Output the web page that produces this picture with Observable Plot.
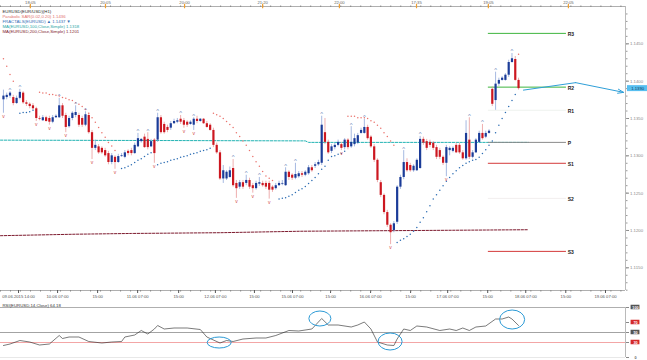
<!DOCTYPE html>
<html>
<head>
<meta charset="utf-8">
<script src="https://cdn.jsdelivr.net/npm/d3@7"></script>
<script src="https://cdn.jsdelivr.net/npm/@observablehq/plot@0.6"></script>
<style>
html,body{margin:0;padding:0;background:#fff;}
#wrap{position:relative;width:647px;height:360px;overflow:hidden;background:#fff;}
#main,#rsi{position:absolute;left:0;}
#main{top:0;}
#rsi{top:302px;}
</style>
</head>
<body>
<div id="wrap"><div id="main"></div><div id="rsi"></div></div>
<script>
// ---------------- DATA ----------------
const open = [
1.1375,1.1378,1.1380,1.1378,1.1370,1.1377,1.1384,1.1371,1.1369,1.1367,
1.1363,1.1350,1.1347,1.1351,1.1350,1.1345,1.1351,1.1351,1.1367,1.1354,
1.1339,1.1350,1.1354,1.1354,1.1350,1.1341,1.1354,1.1331,1.1310,1.1312,
1.1310,1.1307,1.1303,1.1291,1.1298,1.1291,1.1299,1.1298,1.1306,1.1307,
1.1303,1.1312,1.1319,1.1325,1.1322,1.1312,1.1321,1.1321,1.1351,1.1342,
1.1338,1.1337,1.1343,1.1345,1.1349,1.1347,1.1345,1.1342,1.1341,1.1349,
1.1346,1.1349,1.1343,1.1341,1.1334,1.1314,1.1304,1.1269,1.1269,1.1271,
1.1283,1.1263,1.1258,1.1264,1.1263,1.1267,1.1260,1.1256,1.1262,1.1263,
1.1263,1.1263,1.1258,1.1256,1.1260,1.1262,1.1260,1.1278,1.1274,1.1270,
1.1272,1.1276,1.1274,1.1276,1.1284,1.1286,1.1288,1.1290,1.1331,1.1318,
1.1306,1.1311,1.1314,1.1315,1.1311,1.1321,1.1312,1.1315,1.1317,1.1330,
1.1330,1.1338,1.1325,1.1312,1.1294,1.1264,1.1247,1.1224,1.1207,1.1200,
1.1211,1.1258,1.1271,1.1291,1.1287,1.1280,1.1280,1.1283,1.1322,1.1319,
1.1318,1.1317,1.1311,1.1307,1.1298,1.1290,1.1307,1.1306,1.1314,1.1314,
1.1304,1.1296,1.1321,1.1298,1.1304,1.1318,1.1330,1.1325,1.1330,1.1389,
1.1374,1.1396,1.1401,1.1401,1.1408,1.1425,1.1429,1.1401];
const high = [
1.1388,1.1384,1.1386,1.1381,1.1380,1.1389,1.1386,1.1374,1.1371,1.1370,
1.1365,1.1353,1.1354,1.1353,1.1353,1.1354,1.1355,1.1377,1.1370,1.1357,
1.1353,1.1359,1.1367,1.1357,1.1353,1.1359,1.1357,1.1334,1.1321,1.1315,
1.1312,1.1310,1.1306,1.1303,1.1300,1.1302,1.1303,1.1307,1.1308,1.1310,
1.1317,1.1330,1.1323,1.1329,1.1331,1.1322,1.1323,1.1357,1.1354,1.1345,
1.1341,1.1346,1.1349,1.1350,1.1354,1.1350,1.1347,1.1347,1.1351,1.1353,
1.1350,1.1350,1.1346,1.1343,1.1337,1.1317,1.1307,1.1287,1.1280,1.1285,
1.1295,1.1267,1.1267,1.1267,1.1274,1.1270,1.1263,1.1266,1.1271,1.1266,
1.1266,1.1266,1.1260,1.1263,1.1266,1.1267,1.1284,1.1280,1.1276,1.1290,
1.1279,1.1279,1.1280,1.1287,1.1287,1.1291,1.1294,1.1353,1.1350,1.1321,
1.1315,1.1317,1.1321,1.1318,1.1323,1.1323,1.1339,1.1329,1.1330,1.1337,
1.1349,1.1341,1.1327,1.1315,1.1296,1.1267,1.1249,1.1227,1.1209,1.1212,
1.1260,1.1274,1.1307,1.1296,1.1290,1.1288,1.1296,1.1326,1.1325,1.1322,
1.1321,1.1319,1.1314,1.1310,1.1300,1.1314,1.1312,1.1312,1.1317,1.1317,
1.1307,1.1347,1.1351,1.1307,1.1323,1.1333,1.1342,1.1333,1.1335,1.1392,
1.1412,1.1404,1.1406,1.1410,1.1428,1.1437,1.1433,1.1404];
const low = [
1.1357,1.1375,1.1377,1.1367,1.1369,1.1375,1.1369,1.1366,1.1363,1.1361,
1.1346,1.1347,1.1346,1.1345,1.1341,1.1343,1.1350,1.1350,1.1350,1.1331,
1.1337,1.1347,1.1351,1.1338,1.1338,1.1339,1.1329,1.1295,1.1307,1.1302,
1.1302,1.1298,1.1288,1.1288,1.1282,1.1290,1.1298,1.1296,1.1300,1.1300,
1.1302,1.1311,1.1317,1.1310,1.1308,1.1311,1.1290,1.1318,1.1329,1.1329,
1.1331,1.1334,1.1342,1.1343,1.1342,1.1337,1.1338,1.1341,1.1334,1.1343,
1.1345,1.1342,1.1337,1.1333,1.1311,1.1302,1.1267,1.1263,1.1267,1.1270,
1.1258,1.1243,1.1255,1.1255,1.1260,1.1255,1.1250,1.1254,1.1259,1.1258,
1.1255,1.1242,1.1251,1.1254,1.1259,1.1260,1.1259,1.1267,1.1267,1.1268,
1.1270,1.1271,1.1272,1.1274,1.1278,1.1283,1.1286,1.1287,1.1315,1.1302,
1.1303,1.1308,1.1312,1.1307,1.1308,1.1308,1.1310,1.1312,1.1315,1.1329,
1.1329,1.1321,1.1310,1.1291,1.1264,1.1244,1.1221,1.1204,1.1181,1.1197,
1.1208,1.1255,1.1268,1.1278,1.1278,1.1278,1.1279,1.1282,1.1314,1.1307,
1.1311,1.1307,1.1295,1.1295,1.1287,1.1272,1.1300,1.1304,1.1303,1.1302,
1.1294,1.1294,1.1295,1.1296,1.1303,1.1317,1.1321,1.1323,1.1329,1.1366,
1.1361,1.1393,1.1400,1.1400,1.1405,1.1424,1.1400,1.1388];
const close = [
1.1380,1.1381,1.1384,1.1370,1.1377,1.1385,1.1371,1.1369,1.1366,1.1363,
1.1350,1.1349,1.1351,1.1346,1.1345,1.1351,1.1353,1.1367,1.1353,1.1338,
1.1350,1.1357,1.1358,1.1341,1.1341,1.1355,1.1331,1.1310,1.1314,1.1304,
1.1304,1.1300,1.1291,1.1300,1.1291,1.1299,1.1300,1.1304,1.1303,1.1303,
1.1314,1.1323,1.1322,1.1311,1.1311,1.1319,1.1303,1.1351,1.1331,1.1331,
1.1334,1.1343,1.1346,1.1347,1.1345,1.1341,1.1341,1.1345,1.1349,1.1346,
1.1349,1.1343,1.1338,1.1334,1.1314,1.1304,1.1269,1.1280,1.1278,1.1280,
1.1260,1.1256,1.1264,1.1258,1.1267,1.1258,1.1256,1.1263,1.1264,1.1260,
1.1258,1.1254,1.1254,1.1260,1.1263,1.1263,1.1278,1.1271,1.1270,1.1275,
1.1276,1.1274,1.1278,1.1284,1.1280,1.1288,1.1291,1.1341,1.1318,1.1304,
1.1312,1.1314,1.1318,1.1310,1.1321,1.1311,1.1318,1.1323,1.1327,1.1334,
1.1338,1.1323,1.1312,1.1294,1.1267,1.1247,1.1224,1.1207,1.1197,1.1209,
1.1258,1.1271,1.1291,1.1280,1.1280,1.1286,1.1294,1.1322,1.1317,1.1310,
1.1314,1.1310,1.1298,1.1298,1.1290,1.1311,1.1310,1.1310,1.1304,1.1304,
1.1296,1.1330,1.1298,1.1304,1.1321,1.1330,1.1323,1.1330,1.1333,1.1369,
1.1396,1.1401,1.1404,1.1408,1.1425,1.1430,1.1401,1.1390];

// Parabolic SAR, one value per candle (null = no dot)
const sar = [
1.1430,1.1420,1.1409,1.1400,null,1.1357,1.1358,1.1358,1.1359,1.1361,
null,1.1385,1.1384,1.1384,1.1382,1.1382,1.1381,1.1380,1.1378,1.1377,
1.1375,1.1374,1.1371,1.1369,1.1366,1.1362,1.1357,1.1351,1.1345,1.1338,
1.1331,1.1325,1.1318,1.1313,1.1307,null,1.1283,1.1284,1.1286,1.1288,
1.1291,1.1294,1.1296,1.1299,1.1302,1.1304,null,1.1288,1.1290,1.1291,
1.1292,1.1294,1.1295,1.1296,1.1298,1.1299,1.1300,1.1302,1.1303,1.1304,
1.1306,1.1307,1.1308,1.1310,1.1357,1.1355,1.1353,1.1350,1.1346,1.1342,
1.1338,1.1331,1.1326,1.1320,1.1314,1.1307,1.1299,1.1292,1.1286,1.1279,
1.1273,1.1270,1.1267,null,1.1242,1.1243,1.1244,1.1246,1.1248,1.1251,
1.1254,1.1256,1.1259,1.1263,1.1267,1.1271,1.1276,1.1282,1.1286,1.1294,
1.1299,1.1300,1.1302,1.1303,1.1306,1.1353,1.1353,1.1353,1.1351,1.1351,
1.1351,1.1350,1.1347,1.1345,1.1341,1.1337,1.1331,1.1326,1.1320,1.1314,
1.1184,1.1187,1.1189,1.1192,1.1195,1.1199,1.1204,1.1211,1.1217,1.1225,
1.1233,1.1242,1.1248,1.1254,1.1260,1.1266,1.1271,1.1276,1.1280,1.1284,
1.1287,1.1290,1.1292,1.1294,1.1295,1.1298,1.1303,1.1308,1.1314,1.1320,
1.1331,1.1341,1.1350,1.1358,1.1366,1.1374,1.1382,1.1436];

// Fractal markers (candle indices)
const fracUp = [2,5,17,22,25,41,44,47,54,58,70,74,78,86,89,97,106,110,122,127,142,146,150,155];
const fracDown = [0,10,14,19,27,34,46,55,58,71,76,81,103,118,135];

// Moving averages (candle index, price)
const ma100Idx = [-0.9, 92, 93, 160];
const ma100Val = [1.1321, 1.1320, 1.1318, 1.1318];
const ma200Idx = [-0.9, 22, 39, 66, 91, 127, 160];
const ma200Val = [1.1193, 1.1195, 1.1196, 1.1197, 1.1199, 1.1200, 1.1201];

// Pivot levels
const pivotNames = ["R3","R2","R1","P","S1","S2","S3"];
const pivotValues = [1.1464, 1.1392, 1.1361, 1.1318, 1.1290, 1.1243, 1.1172];

// Forecast arrow (candle index, price)
const arrowIdx = [158.5, 174.4, 189.0];
const arrowVal = [1.1388, 1.1398, 1.1385];

const currentPrice = 1.1390;

// Price axis
const priceTicks = [1.1450, 1.1400, 1.1350, 1.1300, 1.1250, 1.1200, 1.1150];

// Time axes
const bottomTicks = [4.6, 16.5, 28.7, 40.9, 53.4, 64.6, 76.5, 88.1, 99.7, 111.9, 124.1, 135.4, 147.6, 159.2, 171.4, 183.5];
const bottomLabels = ["09.06.2015 14:00","10.06 07:00","15:00","11.06 07:00","15:00","12.06 07:00","15:00","15.06 07:00","15:00","16.06 07:00","15:00","17.06 07:00","15:00","18.06 07:00","15:00","19.06 07:00"];
const topTicks = [8.2, 31.1, 55.2, 79.0, 102.4, 125.9, 147.8, 172.2];
const topLabels = ["18:05","20:05","20:00","21:20","22:00","17:35","19:05","22:05"];

// RSI
const rsiIdx = [0,2,5,8,11,14,17,18,20,23,26,30,33,36,37,40,42,44,46,47,49,52,56,60,62,66,68,70,73,77,80,83,87,90,94,97,99,102,106,108,110,112,114,117,119,120,122,124,126,129,133,136,138,140,142,144,147,150,152,154,155,157];
const rsiVal = [24,27,34,31,25,27,44,38,41,41,32,29,31,32,41,45,54,47,57,64,57,59,59,56,41,29,34,32,37,39,39,44,54,53,57,78,65,65,61,65,71,57,31,25,24,37,57,54,63,61,54,57,54,59,54,61,63,77,77,81,77,64];
const rsiLevels = [100, 70, 50, 30, 0];
const circledIdx = [65.9, 96.6, 118.0, 155.2];
const circledRsi = [29, 77, 31, 75];

// Texts
const legendLines = [
  "EURUSD(EUR/USD)(H1)",
  "Parabolic SAR(0.02,0.20) 1.1436",
  "FRACTALS(EURUSD) \u25B2 1.1437 \u25BC",
  "MA(EURUSD,100,Close,Simple) 1.1318",
  "MA(EURUSD,200,Close,Simple) 1.1201"
];
const rsiTitle = "RSI(EURUSD,14,Close) 64.18";

// ---------------- STYLE ----------------
const FONT = "'Liberation Sans', Arial, sans-serif";
const X_DOMAIN = [-0.9, 189.6];
const Y_DOMAIN = [1.11196, 1.15];
const UP_BODY = "#1b3c98", DOWN_BODY = "#cc1720";
const UP_WICK = "#7f9bd4", DOWN_WICK = "#e68c8c";
const SAR_UP = "#2b6cb3", SAR_DOWN = "#ea726c";
const PIVOT_COLORS = ["#3fb53f","#3fb53f","#eef2ee","#8a8a8a","#d43a3a","#f2eeee","#d43a3a"];
const PIVOT_FROM = 147.8, PIVOT_TO = 171.6, PIVOT_LABEL_AT = 172.0;
const LEGEND_COLORS = ["#2a2a2a","#e2706a","#2f6db5","#1fa6a6","#7d1a2e"];
const ELLIPSE_RX = [12, 11, 12, 12.5], ELLIPSE_RY = [5.5, 7.5, 8.5, 9.5];
const RSI_BOX = ["#555","#d42a2a","#555","#d42a2a",null];
const RSI_TXT = ["#fff","#fff","#fff","#fff","#666"];

// ---------------- BUILD ----------------
const candles = open.map((o, i) => ({i, o, h: high[i], l: low[i], c: close[i], up: close[i] >= o}));
const sarPts = sar.map((v, i) => ({i, v, above: v != null && v > close[i]})).filter(d => d.v != null);
const upFr = fracUp.map(i => ({i, v: high[i]}));
const dnFr = fracDown.map(i => ({i, v: low[i]}));
const ma100 = ma100Idx.map((x, k) => ({x, y: ma100Val[k]}));
const ma200 = ma200Idx.map((x, k) => ({x, y: ma200Val[k]}));
const pivots = pivotNames.map((name, k) => ({name, v: pivotValues[k], color: PIVOT_COLORS[k]}));
const arrowLine = arrowIdx.slice(0, 2).map((x, k) => ({x, y: arrowVal[k]}));
const arrowHead = [{x1: arrowIdx[1], y1: arrowVal[1], x2: arrowIdx[2], y2: arrowVal[2]}];
const minorPrice = d3.range(1.112, 1.1500, 0.001);
const minorTime = d3.range(-0.9, 189.6, 3.05);

const main = Plot.plot({
  width: 647, height: 303,
  marginLeft: 0, marginRight: 22, marginTop: 6, marginBottom: 13,
  x: {domain: X_DOMAIN},
  y: {domain: Y_DOMAIN},
  style: {fontFamily: FONT, fontSize: "4.5px", background: "transparent", overflow: "visible", color: "#666"},
  marks: [
    Plot.ruleY([Y_DOMAIN[1]], {stroke: "#9a9a9a", strokeWidth: 0.8}),
    Plot.ruleY([Y_DOMAIN[0]], {stroke: "#9a9a9a", strokeWidth: 0.8}),
    Plot.ruleX([X_DOMAIN[1]], {stroke: "#a8a8a8", strokeWidth: 0.8}),
    Plot.line(ma100, {x: "x", y: "y", stroke: "#22b3b3", strokeWidth: 1, strokeDasharray: "2.4,1.4"}),
    Plot.line(ma200, {x: "x", y: "y", stroke: "#7d1a2e", strokeWidth: 1, strokeDasharray: "2.4,1.4"}),
    Plot.ruleY(pivots, {y: "v", x1: PIVOT_FROM, x2: PIVOT_TO, stroke: "color", strokeWidth: 1}),
    Plot.text(pivots, {x: PIVOT_LABEL_AT, y: "v", text: "name", textAnchor: "start", fontWeight: "bold", fontSize: 5, fill: "#222", dy: 1.5}),
    Plot.ruleX(candles, {x: "i", y1: "l", y2: "h", stroke: d => d.up ? UP_WICK : DOWN_WICK, strokeWidth: 0.7}),
    Plot.ruleX(candles, {x: "i", y1: "o", y2: "c", stroke: d => d.up ? UP_BODY : DOWN_BODY, strokeWidth: 2.2}),
    Plot.dot(sarPts, {x: "i", y: "v", r: 0.75, fill: d => d.above ? SAR_DOWN : SAR_UP, stroke: null}),
    Plot.text(upFr, {x: "i", y: "v", text: d => "^", fill: "#6a86b8", fontSize: 6, dy: -2}),
    Plot.text(dnFr, {x: "i", y: "v", text: d => "v", fill: "#d24848", fontSize: 5, dy: 3}),
    Plot.line(arrowLine, {x: "x", y: "y", stroke: "#2f9fd8", strokeWidth: 1}),
    Plot.arrow(arrowHead, {x1: "x1", y1: "y1", x2: "x2", y2: "y2", stroke: "#2f9fd8", strokeWidth: 1, headLength: 9, headAngle: 40}),
    Plot.axisY({anchor: "right", ticks: priceTicks, tickFormat: d => d.toFixed(4), tickSize: 3, tickPadding: 1.5, fontSize: 4.3, color: "#888"}),
    Plot.axisY({anchor: "right", ticks: minorPrice, tickFormat: d => "", tickSize: 1.5, color: "#999"}),
    Plot.rect([{x1: 190.2, x2: 196.4, y1: currentPrice - 0.0004, y2: currentPrice + 0.0004}], {x1: "x1", x2: "x2", y1: "y1", y2: "y2", fill: "#58bff0"}),
    Plot.text([currentPrice], {x: 193.3, y: d => d, text: d => d.toFixed(4), fontSize: 4.2, fill: "#163a5a"}),
    Plot.axisX({anchor: "bottom", ticks: bottomTicks, tickFormat: d => bottomLabels[bottomTicks.indexOf(d)], tickSize: 3, tickPadding: 1.5, fontSize: 4.2, color: "#555"}),
    Plot.axisX({anchor: "bottom", ticks: minorTime, tickFormat: d => "", tickSize: 1.5, color: "#888"}),
    Plot.axisX({anchor: "top", ticks: topTicks, tickFormat: d => topLabels[topTicks.indexOf(d)], tickSize: 2, tickPadding: 0.5, fontSize: 4.2, color: "#666"}),
    Plot.axisX({anchor: "top", ticks: minorTime, tickFormat: d => "", tickSize: 1.5, color: "#888"}),
    Plot.ruleX(topTicks, {x: d => d, y1: Y_DOMAIN[1] + 0.0003, y2: Y_DOMAIN[1] - 0.0003, stroke: "#f0a030", strokeWidth: 1.2}),
    ...legendLines.map((t, k) => Plot.text([t], {frameAnchor: "top-left", dx: 2, dy: 3.5 + 5 * k, fill: LEGEND_COLORS[k], fontSize: 4.3, textAnchor: "start", lineAnchor: "top"}))
  ]
});
document.getElementById("main").appendChild(main);

const rsiData = rsiIdx.map((x, k) => ({x, y: rsiVal[k]}));
const circled = circledIdx.map((x, k) => ({x, y: circledRsi[k]}));
const levelData = rsiLevels.map((v, k) => ({v, box: RSI_BOX[k], txt: RSI_TXT[k]}));

const rsi = Plot.plot({
  width: 647, height: 58,
  marginLeft: 0, marginRight: 22, marginTop: 5, marginBottom: 3,
  x: {domain: X_DOMAIN, axis: null},
  y: {domain: [0, 100]},
  style: {fontFamily: FONT, fontSize: "4.5px", background: "transparent", overflow: "visible", color: "#666"},
  marks: [
    Plot.ruleY([100], {stroke: "#9a9a9a", strokeWidth: 0.8}),
    Plot.ruleY([0], {stroke: "#e2e2e2", strokeWidth: 0.8}),
    Plot.ruleY([50], {stroke: "#8c8c8c", strokeWidth: 0.8}),
    Plot.ruleY([30], {stroke: "#f29c9c", strokeWidth: 0.9}),
    Plot.ruleX([X_DOMAIN[1]], {stroke: "#a8a8a8", strokeWidth: 0.8}),
    Plot.line(rsiData, {x: "x", y: "y", stroke: "#222", strokeWidth: 0.6}),
    Plot.dot(circled, {x: "x", y: "y", render: (index, scales, values) => {
      const g = d3.create("svg:g");
      for (const i of index) {
        g.append("ellipse")
          .attr("cx", values.x[i]).attr("cy", values.y[i])
          .attr("rx", ELLIPSE_RX[i]).attr("ry", ELLIPSE_RY[i])
          .attr("fill", "none").attr("stroke", "#2b9ad6").attr("stroke-width", 1);
      }
      return g.node();
    }}),
    Plot.axisY({anchor: "right", ticks: rsiLevels, tickFormat: d => "", tickSize: 3, color: "#888"}),
    Plot.rect(levelData.filter(d => d.box), {x1: 191.3, x2: 194.0, y1: d => d.v - 4.5, y2: d => d.v + 4.5, fill: "box"}),
    Plot.text(levelData, {x: 192.65, y: "v", text: d => String(d.v), fill: "txt", fontSize: 3.8, fontWeight: "bold"}),
    Plot.text([rsiTitle], {frameAnchor: "top-left", dx: 2, dy: -3.5, fill: "#333", fontSize: 4.3, textAnchor: "start", lineAnchor: "top"})
  ]
});
document.getElementById("rsi").appendChild(rsi);
</script>
</body>
</html>
